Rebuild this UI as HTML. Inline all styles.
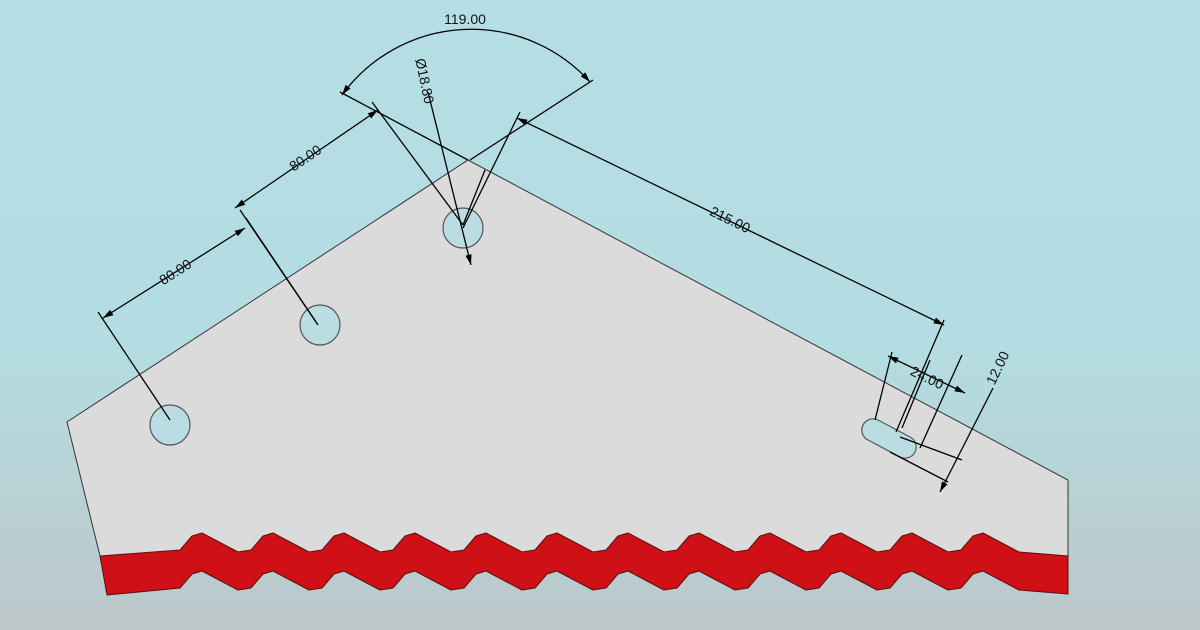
<!DOCTYPE html>
<html><head><style>
html,body{margin:0;padding:0;width:1200px;height:630px;overflow:hidden}
body{background:linear-gradient(#b5dee5 0%,#b3dde2 55%,#bcc7c9 100%)}
svg{display:block}
text{font-family:"Liberation Sans",sans-serif;font-size:14px;fill:#111}
</style></head><body>
<svg width="1200" height="630" viewBox="0 0 1200 630">
<defs><marker id="a" viewBox="0 0 10 10" refX="10" refY="5" markerWidth="8" markerHeight="8" orient="auto-start-reverse"><path d="M0,2L10,5L0,8z" fill="#000"/></marker></defs>
<polygon points="67,422 468,160 1068,480 1068,560 100,556" fill="#dcdbdc" stroke="#333" stroke-width="1"/>
<path fill="#cf1016" stroke="#5a1010" stroke-width="1" stroke-linejoin="round" d="M100,556 L180,550 L192,536 202,533 238,552 251,550 263,536 273,533 309,552 322,550 334,536 344,533 380,552 393,550 405,536 415,533 451,552 464,550 476,536 486,533 522,552 535,550 547,536 557,533 593,552 606,550 618,536 628,533 664,552 677,550 689,536 699,533 735,552 748,550 760,536 770,533 806,552 819,550 831,536 841,533 877,552 890,550 902,536 912,533 948,552 961,550 973,536 983,533 1019,552 1068,556 L1068,594 1019,590 983,571 973,574 961,588 948,590 912,571 902,574 890,588 877,590 841,571 831,574 819,588 806,590 770,571 760,574 748,588 735,590 699,571 689,574 677,588 664,590 628,571 618,574 606,588 593,590 557,571 547,574 535,588 522,590 486,571 476,574 464,588 451,590 415,571 405,574 393,588 380,590 344,571 334,574 322,588 309,590 273,571 263,574 251,588 238,590 202,571 192,574 180,588 107,595 Z"/>
<g fill="#b9dde2" stroke="#555" stroke-width="1.2">
<circle cx="170" cy="425" r="20"/><circle cx="320" cy="325" r="20"/><circle cx="463" cy="228" r="20"/>
<path d="M878,420 L910,437 A11,11 0 0 1 900,457 L868,440 A11,11 0 0 1 878,420z"/>
</g>
<g stroke="#000" stroke-width="1.3" fill="none">
<line x1="170" y1="420" x2="98" y2="312"/>
<line x1="103" y1="318" x2="245" y2="228" marker-start="url(#a)" marker-end="url(#a)"/>
<line x1="316" y1="322" x2="240" y2="210"/><line x1="318" y1="325" x2="246" y2="218"/>
<line x1="235" y1="208" x2="378" y2="110" marker-start="url(#a)" marker-end="url(#a)"/>
<line x1="463" y1="225" x2="372" y2="102"/>
<line x1="340" y1="92" x2="468" y2="160"/>
<line x1="593" y1="80" x2="470" y2="160"/>
<path d="M342,95 A160,160 0 0 1 590,82" marker-start="url(#a)" marker-end="url(#a)"/>
<line x1="428" y1="92" x2="471" y2="265" marker-end="url(#a)"/>
<line x1="463" y1="225" x2="485" y2="170" />
<line x1="463" y1="228" x2="520" y2="112"/>
<line x1="517" y1="118" x2="944" y2="325" marker-start="url(#a)" marker-end="url(#a)"/>
<line x1="944" y1="320" x2="896" y2="432"/>
<line x1="875" y1="420" x2="892" y2="352"/><line x1="902" y1="428" x2="930" y2="360"/>
<line x1="888" y1="356" x2="965" y2="393" marker-start="url(#a)" marker-end="url(#a)"/>
<line x1="920" y1="448" x2="962" y2="355"/>
<line x1="900" y1="437" x2="962" y2="460"/><line x1="890" y1="452" x2="948" y2="482"/>
<line x1="993" y1="388" x2="940" y2="492" marker-end="url(#a)"/>
</g>
<g>
<text x="0" y="0" transform="translate(178,276) rotate(-33)" text-anchor="middle">80.00</text>
<text x="0" y="0" transform="translate(308,162) rotate(-34)" text-anchor="middle">80.00</text>
<text x="465" y="24" text-anchor="middle">119.00</text>
<text x="0" y="0" transform="translate(420,82) rotate(78)" text-anchor="middle">Ø18.80</text>
<text x="0" y="0" transform="translate(728,224) rotate(26)" text-anchor="middle">215.00</text>
<text x="0" y="0" transform="translate(925,382) rotate(26)" text-anchor="middle">24.00</text>
<text x="0" y="0" transform="translate(1002,370) rotate(-64)" text-anchor="middle">12.00</text>
</g>
</svg>
</body></html>
